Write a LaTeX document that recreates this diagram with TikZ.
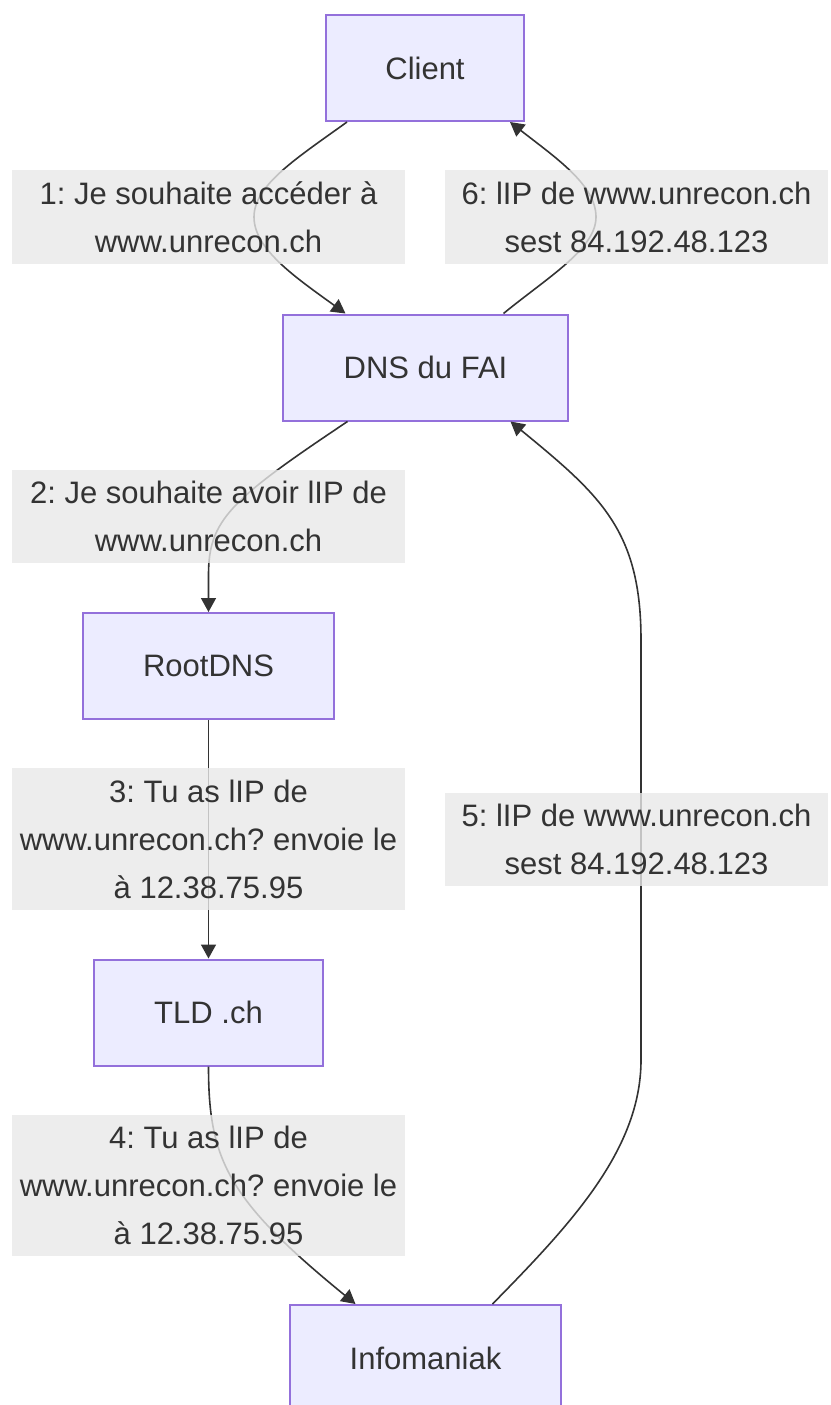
\documentclass[tikz,border=0pt]{standalone}
\usepackage{fontspec}
\setmainfont{Liberation Sans}
\usetikzlibrary{arrows.meta}
\frenchspacing
\definecolor{nodefill}{HTML}{ECECFF}
\definecolor{nodeline}{HTML}{9370DB}
\definecolor{ink}{HTML}{333333}
\definecolor{labelgray}{HTML}{E8E8E8}
\tikzset{
  server/.style={draw=nodeline, fill=nodefill, line width=2pt, rectangle,
    minimum height=106pt, inner sep=0pt, text=ink,
    font=\fontsize{31}{48}\selectfont},
  msg/.style={fill=labelgray, fill opacity=0.8, text opacity=1, text=ink,
    align=center, inner sep=0pt, font=\fontsize{31}{48}\selectfont},
  flow/.style={draw=ink, line width=1.6pt,
    -{Triangle[length=14pt,width=15pt]}},
}
\begin{document}
\begin{tikzpicture}[x=1pt,y=-1pt]
\useasboundingbox (0,0) rectangle (830,1405);

% servers
\node[server, minimum width=198pt] (client) at (425,68) {Client};
\node[server, minimum width=285pt] (dns) at (425.5,367.5) {DNS du FAI};
\node[server, minimum width=251pt] (root) at (208.5,666) {RootDNS};
\node[server, minimum width=229pt] (tld) at (208.5,1012.5) {TLD .ch};
\node[server, minimum width=271pt] (info) at (425.5,1358) {Infomaniak};

% request and answer paths
\draw[flow] ([xshift=-78pt]client.south) .. controls (297,158) and (254,185) .. (254,217)
  .. controls (254,249) and (295,277) .. ([xshift=-80pt]dns.north);
\draw[flow] ([xshift=78pt]dns.north) .. controls (548,277) and (596,249) .. (596,217)
  .. controls (596,185) and (556,158) .. ([xshift=85pt]client.south);
\draw[flow] ([xshift=-78pt]dns.south) .. controls (230,500) and (208.5,520) .. (208.5,575)
  -- (root.north);
\draw[flow] (root.south) -- (tld.north);
\draw[flow] (tld.south) .. controls (208.5,1160) and (228,1200) .. ([xshift=-70pt]info.north);
\draw[flow] ([xshift=67pt]info.north) .. controls (570,1225) and (641,1150) .. (641,1060)
  -- (641,640) .. controls (641,530) and (600,495) .. ([xshift=85pt]dns.south);

% message labels
\node[msg, minimum width=393pt, minimum height=94pt] (m1) at (208.5,217)
  {1: Je souhaite accéder à\\www.unrecon.ch};
\node[msg, minimum width=383pt, minimum height=94pt] (m6) at (636.5,217)
  {6: lIP de www.unrecon.ch\\sest 84.192.48.123};
\node[msg, minimum width=393pt, minimum height=93pt] (m2) at (208.5,516.5)
  {2: Je souhaite avoir lIP de\\www.unrecon.ch};
\node[msg, minimum width=393pt, minimum height=142pt] (m3) at (208.5,839)
  {3: Tu as lIP de\\www.unrecon.ch? envoie le\\à 12.38.75.95};
\node[msg, minimum width=383pt, minimum height=93pt] (m5) at (636.5,839.5)
  {5: lIP de www.unrecon.ch\\sest 84.192.48.123};
\node[msg, minimum width=393pt, minimum height=141pt] (m4) at (208.5,1185.5)
  {4: Tu as lIP de\\www.unrecon.ch? envoie le\\à 12.38.75.95};
\end{tikzpicture}
\end{document}
